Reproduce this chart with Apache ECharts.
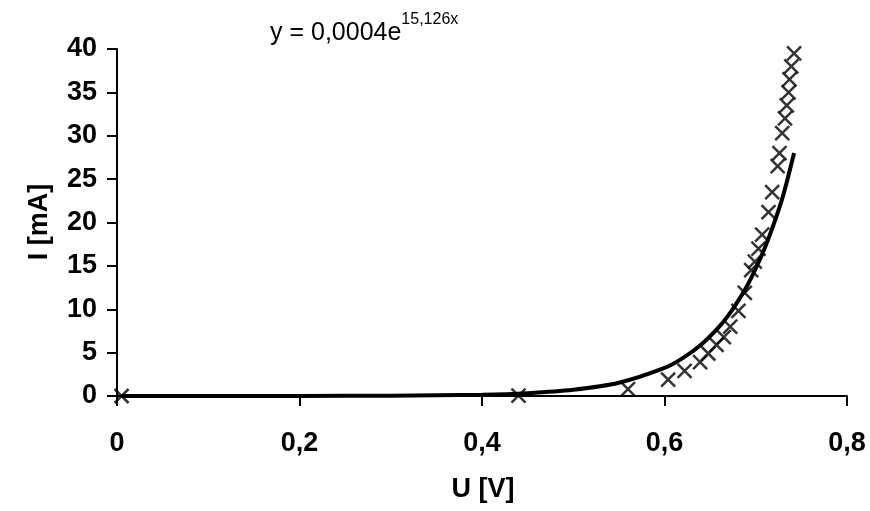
<!DOCTYPE html>
<html>
<head>
<meta charset="utf-8">
<script src="https://cdn.jsdelivr.net/npm/echarts@6/dist/echarts.min.js"></script>
<style>html,body{margin:0;padding:0;background:#fff}#c{width:870px;height:511px}</style>
</head>
<body>
<div id="c"></div>
<script>
// measured points: U [V], I [mA]
var voltage = [0.005, 0.44, 0.56, 0.604, 0.622, 0.639, 0.648, 0.657, 0.665, 0.672, 0.681, 0.688, 0.695, 0.699, 0.703, 0.707, 0.714, 0.718, 0.724, 0.726, 0.729, 0.732, 0.734, 0.736, 0.737, 0.739, 0.742];
var current = [0.0, 0.05, 0.8, 1.9, 2.9, 3.9, 4.9, 5.9, 6.8, 8.0, 9.8, 11.9, 14.5, 15.5, 17.0, 18.6, 21.2, 23.5, 26.5, 28.0, 30.3, 32.0, 33.5, 35.0, 36.5, 38.0, 39.5];
// trendline
var trendU = [0.005, 0.1, 0.2, 0.3, 0.4, 0.45, 0.5, 0.55, 0.6, 0.62, 0.64, 0.66, 0.67, 0.68, 0.69, 0.70, 0.71, 0.72, 0.73, 0.742];
var trendI = [0.0004, 0.0017, 0.0076, 0.035, 0.157, 0.33, 0.71, 1.52, 3.23, 4.37, 5.9, 8.0, 9.3, 10.85, 12.6, 14.7, 17.1, 19.9, 23.1, 28.0];
var xTicks = [0, 0.2, 0.4, 0.6, 0.8];
var yTicks = [0, 5, 10, 15, 20, 25, 30, 35, 40];
var equationMain = 'y = 0,0004e';
var equationExp = '15,126x';
var xTitle = 'U [V]';
var yTitle = 'I [mA]';

var FONT = 'Liberation Sans, Arial, sans-serif';
var chart = echarts.init(document.getElementById('c'), null, {renderer: 'canvas'});
var scatterData = voltage.map(function (u, i) { return [u, current[i]]; });
var trendData = trendU.map(function (u, i) { return [u, trendI[i]]; });
chart.setOption({
  animation: false,
  backgroundColor: '#fff',
  grid: {left: 117, right: 23, top: 49, bottom: 115, containLabel: false},
  xAxis: {
    type: 'value', min: xTicks[0], max: xTicks[xTicks.length - 1], interval: 0.2,
    axisLine: {show: true, onZero: false, lineStyle: {color: '#000', width: 2}},
    axisTick: {show: true, inside: false, length: 10, lineStyle: {color: '#000', width: 2}},
    splitLine: {show: false},
    axisLabel: {color: '#000', fontFamily: FONT, fontWeight: 'bold', fontSize: 27, margin: 34,
      formatter: function (v) { return String(+v.toFixed(1)).replace('.', ','); }}
  },
  yAxis: {
    type: 'value', min: yTicks[0], max: yTicks[yTicks.length - 1], interval: 5,
    axisLine: {show: true, onZero: false, lineStyle: {color: '#000', width: 2}},
    axisTick: {show: true, inside: false, length: 10, lineStyle: {color: '#000', width: 2}},
    splitLine: {show: false},
    axisLabel: {color: '#000', fontFamily: FONT, fontWeight: 'bold', fontSize: 27, margin: 20}
  },
  graphic: [
    {type: 'text', x: 270, y: 46, style: {
      text: '{m|' + equationMain + '}{s|' + equationExp + '}',
      verticalAlign: 'bottom',
      rich: {
        m: {fontFamily: FONT, fontSize: 25, fill: '#000', verticalAlign: 'bottom', lineHeight: 25},
        s: {fontFamily: FONT, fontSize: 16, fill: '#000', verticalAlign: 'bottom', lineHeight: 16, padding: [0, 0, 18, 0]}
      }}},
    {type: 'text', x: 483, y: 490, style: {text: xTitle, fontFamily: FONT, fontWeight: 'bold', fontSize: 27, fill: '#000', align: 'center', verticalAlign: 'middle'}},
    {type: 'text', x: 40, y: 222, rotation: Math.PI / 2, style: {text: yTitle, fontFamily: FONT, fontWeight: 'bold', fontSize: 27, fill: '#000', align: 'center', verticalAlign: 'middle'}}
  ],
  series: [
    {type: 'line', data: trendData, smooth: 0.3, showSymbol: false, symbol: 'none',
      lineStyle: {color: '#000', width: 4}, z: 2},
    {type: 'scatter', data: scatterData, symbol: 'path://M0,0L10,10M10,0L0,10', symbolSize: 14,
      itemStyle: {color: 'rgba(0,0,0,0)', borderColor: '#000', borderWidth: 2.5}, z: 3}
  ]
});
</script>
</body>
</html>
